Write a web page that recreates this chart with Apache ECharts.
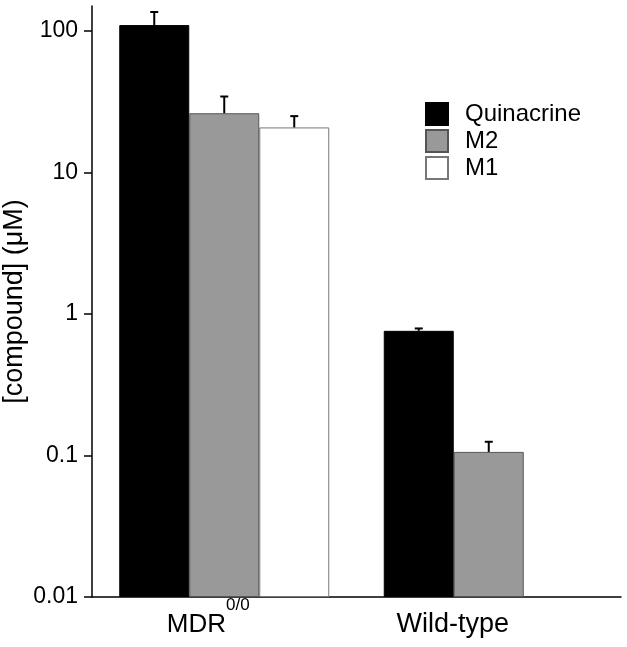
<!DOCTYPE html>
<html>
<head>
<meta charset="utf-8">
<script src="https://cdn.jsdelivr.net/npm/echarts@6/dist/echarts.min.js"></script>
<style>html,body{margin:0;padding:0;background:#fff}#c{width:627px;height:647px}</style>
</head>
<body>
<div id="c"></div>
<script>
var categories = ['MDR', 'Wild-type'];
var seriesNames = ['Quinacrine', 'M2', 'M1'];
var quinacrine = [110, 0.76];
var m2 = [26.2, 0.106];
var m1 = [20.8, null];
var quinacrineErrTop = [136, 0.79];
var m2ErrTop = [34.4, 0.125];
var m1ErrTop = [25, null];
var yTickValues = [0.01, 0.1, 1, 10, 100];
var yTickLabels = ['0.01', '0.1', '1', '10', '100'];

var FONT = 'Liberation Sans, Arial, sans-serif';
var BAR_W = 70;
var values = [quinacrine, m2, m1];
var errs = [quinacrineErrTop, m2ErrTop, m1ErrTop];
var fills = ['#000000', '#999999', '#ffffff'];
var borders = ['#000000', '#555555', '#777777'];

var series = [];
values.forEach(function (vals, i) {
  series.push({
    name: seriesNames[i], type: 'bar', data: vals, barWidth: BAR_W, barGap: '0%',
    itemStyle: { color: fills[i], borderColor: borders[i], borderWidth: 1 },
    z: 2
  });
});
values.forEach(function (vals, i) {
  var data = [];
  vals.forEach(function (v, k) { if (v != null) data.push([k, v, errs[i][k]]); });
  series.push({
    type: 'custom', z: 3, silent: true,
    data: data,
    renderItem: function (params, api) {
      var c = api.value(0);
      var top = api.coord([c, api.value(1)]);
      var e = api.coord([c, api.value(2)]);
      var x = top[0] + (i - 1) * BAR_W;
      return {
        type: 'group',
        children: [
          { type: 'line', shape: { x1: x, y1: top[1], x2: x, y2: e[1] }, style: { stroke: '#000', lineWidth: 2 } },
          { type: 'line', shape: { x1: x - 4, y1: e[1], x2: x + 4, y2: e[1] }, style: { stroke: '#000', lineWidth: 2 } }
        ]
      };
    }
  });
});

var chart = echarts.init(document.getElementById('c'));
chart.setOption({
  animation: false,
  backgroundColor: '#fff',
  textStyle: { fontFamily: FONT },
  grid: { left: 92, right: 6, top: 6, bottom: 50, containLabel: false, outerBoundsMode: 'none' },
  legend: {
    orient: 'vertical', left: 425, top: 102, padding: 0,
    data: seriesNames, icon: 'rect', itemWidth: 22, itemHeight: 22, itemGap: 3,
    selectedMode: false,
    textStyle: { fontSize: 24, color: '#000', fontFamily: FONT, padding: [0, 0, 0, 12], lineHeight: 24 }
  },
  xAxis: {
    type: 'category', data: categories,
    axisLine: { lineStyle: { color: '#000', width: 1.5 } },
    axisTick: { show: false },
    axisLabel: {
      margin: 0, color: '#000', fontFamily: FONT,
      formatter: function (v) {
        return v === 'MDR' ? '{a|MDR}{s|0/0}' : '{b|' + v + '}';
      },
      rich: {
        a: { fontSize: 26, color: '#000', fontFamily: FONT, lineHeight: 56 },
        s: { fontSize: 17, color: '#000', fontFamily: FONT, verticalAlign: 'top', padding: [0, 32, 0, 0], lineHeight: 17 },
        b: { fontSize: 27, color: '#000', fontFamily: FONT, lineHeight: 56, padding: [0, 72, 0, 0] }
      }
    }
  },
  yAxis: {
    type: 'log', logBase: 10, min: 0.01, max: 150, startValue: 0.01,
    name: '[compound] (\u03bcM)', nameLocation: 'middle', nameRotate: 90, nameGap: 64, nameMoveOverlap: false,
    nameTextStyle: { fontSize: 27, color: '#000', fontFamily: FONT },
    axisLine: { show: true, lineStyle: { color: '#000', width: 1.5 } },
    axisTick: { show: true, length: 8, lineStyle: { color: '#000', width: 1.5 }, customValues: yTickValues },
    axisLabel: {
      fontSize: 23, color: '#000', margin: 14, fontFamily: FONT, customValues: yTickValues,
      formatter: function (v) {
        for (var k = 0; k < yTickValues.length; k++) {
          if (Math.abs(Math.log10(v) - Math.log10(yTickValues[k])) < 1e-6) return yTickLabels[k];
        }
        return '';
      }
    },
    splitLine: { show: false }
  },
  series: series
});
</script>
</body>
</html>
